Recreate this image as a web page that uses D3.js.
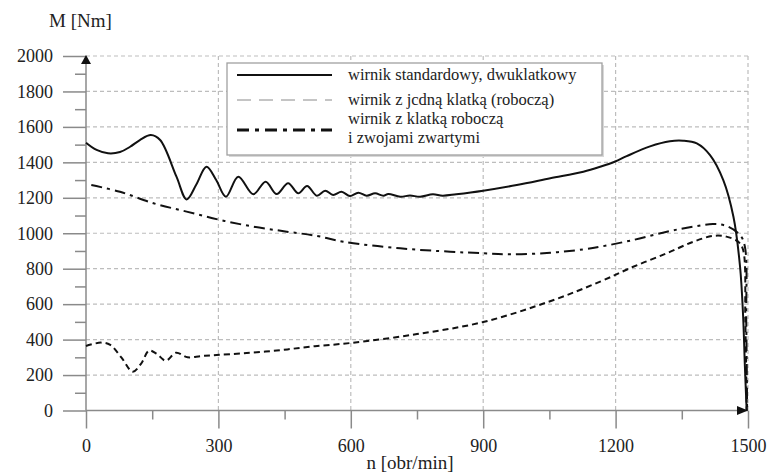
<!DOCTYPE html>
<html>
  <head>
    <meta charset="UTF-8" />
    <title>M(n)</title>
    <style>
      body { margin: 0; background: #fff; }
      svg { display: block; }
      svg text { font-family: "Liberation Serif", "Noto Serif", "DejaVu Serif", FreeSerif, serif; fill: #222; }
    </style>
  </head>
  <body>
    <svg></svg>

    <script src="https://d3js.org/d3.v7.min.js"></script>
    <script>
      // wirnik standardowy, dwuklatkowy
      const nStd = [0, 24, 50, 77, 100, 122, 147, 168, 205, 228, 250, 273, 295, 317, 345, 379, 407, 432, 458, 481, 501, 523, 542, 560, 579, 598, 617, 636, 655, 674, 685, 712, 734, 757, 786, 808, 839, 900, 976, 1052, 1127, 1165, 1199, 1225, 1278, 1323, 1353, 1384, 1414, 1444, 1467, 1482, 1489, 1493, 1497];
      const mStd = [1511, 1470, 1451, 1458, 1488, 1526, 1554, 1526, 1319, 1191, 1275, 1375, 1300, 1206, 1319, 1220, 1291, 1221, 1282, 1225, 1267, 1212, 1240, 1216, 1234, 1210, 1229, 1212, 1225, 1212, 1222, 1206, 1213, 1206, 1220, 1212, 1220, 1240, 1272, 1310, 1347, 1375, 1405, 1435, 1490, 1519, 1522, 1507, 1441, 1300, 1093, 811, 529, 247, 0];

      // wirnik z jedną klatką (roboczą)
      const nOne = [0, 34, 55, 80, 106, 125, 143, 160, 181, 204, 230, 261, 296, 356, 432, 508, 600, 750, 900, 1050, 1165, 1240, 1316, 1376, 1421, 1451, 1478, 1489, 1494, 1497];
      const mOne = [364, 383, 370, 300, 219, 265, 338, 320, 281, 326, 300, 307, 313, 323, 338, 360, 381, 431, 499, 615, 727, 811, 887, 952, 985, 981, 952, 905, 500, 0];

      // wirnik z klatką roboczą i zwojami zwartymi
      const nShort = [12, 77, 153, 228, 304, 380, 455, 523, 583, 712, 825, 900, 961, 1052, 1127, 1165, 1240, 1316, 1376, 1421, 1451, 1482, 1493, 1496, 1498];
      const mShort = [1272, 1234, 1169, 1122, 1075, 1037, 1009, 985, 952, 915, 896, 887, 881, 890, 909, 924, 962, 1009, 1037, 1052, 1041, 990, 924, 500, 0];

      const xTicks = [0, 300, 600, 900, 1200, 1500];
      const xMinor = [150, 450, 750, 1050, 1350];
      const yTicks = [0, 200, 400, 600, 800, 1000, 1200, 1400, 1600, 1800, 2000];
      const yMinor = [100, 300, 500, 700, 900, 1100, 1300, 1500, 1700, 1900];
      const legendLabels = [
        ["wirnik standardowy, dwuklatkowy"],
        ["wirnik z jcdną klatką (roboczą)"],
        ["wirnik z klatką roboczą", "i zwojami zwartymi"],
      ];

      const serif = '"Liberation Serif", "Noto Serif", "DejaVu Serif", FreeSerif, serif';
      const width = 768, height = 476;
      const svg = d3.select("svg").attr("width", width).attr("height", height);

      const x = d3.scaleLinear().domain([0, 1500]).range([86, 748]);
      const y = d3.scaleLinear().domain([0, 2000]).range([410.5, 56]);
      const axisColor = "#8a8a8a";

      // grid
      const grid = svg.append("g").attr("stroke", "#bdbdbd").attr("stroke-width", 1.2).attr("stroke-dasharray", "4,3");
      grid.selectAll(".h").data(yTicks.filter((d) => d > 0)).enter().append("line")
        .attr("x1", x(0)).attr("x2", x(1500))
        .attr("y1", (d) => y(d)).attr("y2", (d) => y(d));
      grid.selectAll(".v").data(xTicks.filter((d) => d > 0)).enter().append("line")
        .attr("x1", (d) => x(d)).attr("x2", (d) => x(d))
        .attr("y1", y(2000)).attr("y2", y(0));

      // legend box
      const lg = svg.append("g");
      lg.append("rect").attr("x", 229).attr("y", 65).attr("width", 375).attr("height", 92).attr("fill", "#d8d8d8");
      lg.append("rect").attr("x", 227).attr("y", 63).attr("width", 375).attr("height", 92)
        .attr("fill", "#fff").attr("stroke", "#a0a0a0").attr("stroke-width", 1.3);

      // axes
      const fmt = d3.format("d");
      const yAxis = svg.append("g").attr("transform", "translate(" + x(0) + ",0)")
        .call(d3.axisLeft(y).tickValues(yTicks).tickSize(23).tickPadding(10).tickFormat(fmt));
      const yAxisMinor = svg.append("g").attr("transform", "translate(" + x(0) + ",0)")
        .call(d3.axisLeft(y).tickValues(yMinor).tickSize(11).tickFormat(""));
      const xAxis = svg.append("g").attr("transform", "translate(0," + y(0) + ")")
        .call(d3.axisBottom(x).tickValues(xTicks).tickSize(18).tickPadding(11).tickFormat(fmt));
      const xAxisMinor = svg.append("g").attr("transform", "translate(0," + y(0) + ")")
        .call(d3.axisBottom(x).tickValues(xMinor).tickSize(9).tickFormat(""));

      [yAxis, yAxisMinor, xAxis, xAxisMinor].forEach((g) => {
        g.attr("font-family", serif).attr("font-size", 18);
        g.select(".domain").remove();
        g.selectAll(".tick line").attr("stroke", axisColor).attr("stroke-width", 1.5);
        g.selectAll(".tick text").attr("fill", "#222").style("font-size", "18px");
      });

      svg.append("line").attr("x1", x(0)).attr("x2", x(0)).attr("y1", y(2000)).attr("y2", y(0))
        .attr("stroke", axisColor).attr("stroke-width", 1.5);
      svg.append("line").attr("x1", x(0)).attr("x2", x(1500)).attr("y1", y(0)).attr("y2", y(0))
        .attr("stroke", axisColor).attr("stroke-width", 1.5);

      // axis titles
      svg.append("text").attr("x", 49).attr("y", 27).style("font-size", "19px").text("M [Nm]");
      svg.append("text").attr("x", 410).attr("y", 469).attr("text-anchor", "middle")
        .style("font-size", "19px").text("n [obr/min]");

      // curves
      const line = d3.line()
        .x((d) => x(d[0]))
        .y((d) => y(d[1]))
        .curve(d3.curveCatmullRom.alpha(0.5));

      const series = [
        { n: nStd, m: mStd, width: 2, dash: null },
        { n: nOne, m: mOne, width: 2, dash: "6,4" },
        { n: nShort, m: mShort, width: 2, dash: "11,5,3,5" },
      ];

      svg.append("g").selectAll("path").data(series).enter().append("path")
        .attr("d", (s) => line(s.n.map((v, i) => [v, s.m[i]])))
        .attr("fill", "none")
        .attr("stroke", "#111")
        .attr("stroke-width", (s) => s.width)
        .attr("stroke-dasharray", (s) => s.dash);

      // arrows
      svg.append("path")
        .attr("d", "M" + x(0) + "," + (y(2000) - 1) + " L" + (x(0) - 5) + "," + (y(2000) + 8) + " L" + (x(0) + 5) + "," + (y(2000) + 8) + "Z")
        .attr("fill", "#111");
      svg.append("path")
        .attr("d", "M" + x(1500) + "," + y(0) + " L" + (x(1500) - 11) + "," + (y(0) - 4.5) + " L" + (x(1500) - 11) + "," + (y(0) + 4.5) + "Z")
        .attr("fill", "#111");

      // legend
      const legendStyles = [
        { y: 75, stroke: "#111", width: 2, dash: null },
        { y: 100, stroke: "#8a8a8a", width: 1, dash: "14,8" },
        { y: 130, stroke: "#111", width: 3.2, dash: "12,6,4,6" },
      ];
      const textRows = [[80], [105], [124, 143]];

      legendStyles.forEach((s, i) => {
        lg.append("line").attr("x1", 237).attr("x2", 332).attr("y1", s.y).attr("y2", s.y)
          .attr("stroke", s.stroke).attr("stroke-width", s.width).attr("stroke-dasharray", s.dash);
        legendLabels[i].forEach((t, j) => {
          lg.append("text").attr("x", 348).attr("y", textRows[i][j]).style("font-size", "16.5px").text(t);
        });
      });
    </script>
  </body>
</html>
